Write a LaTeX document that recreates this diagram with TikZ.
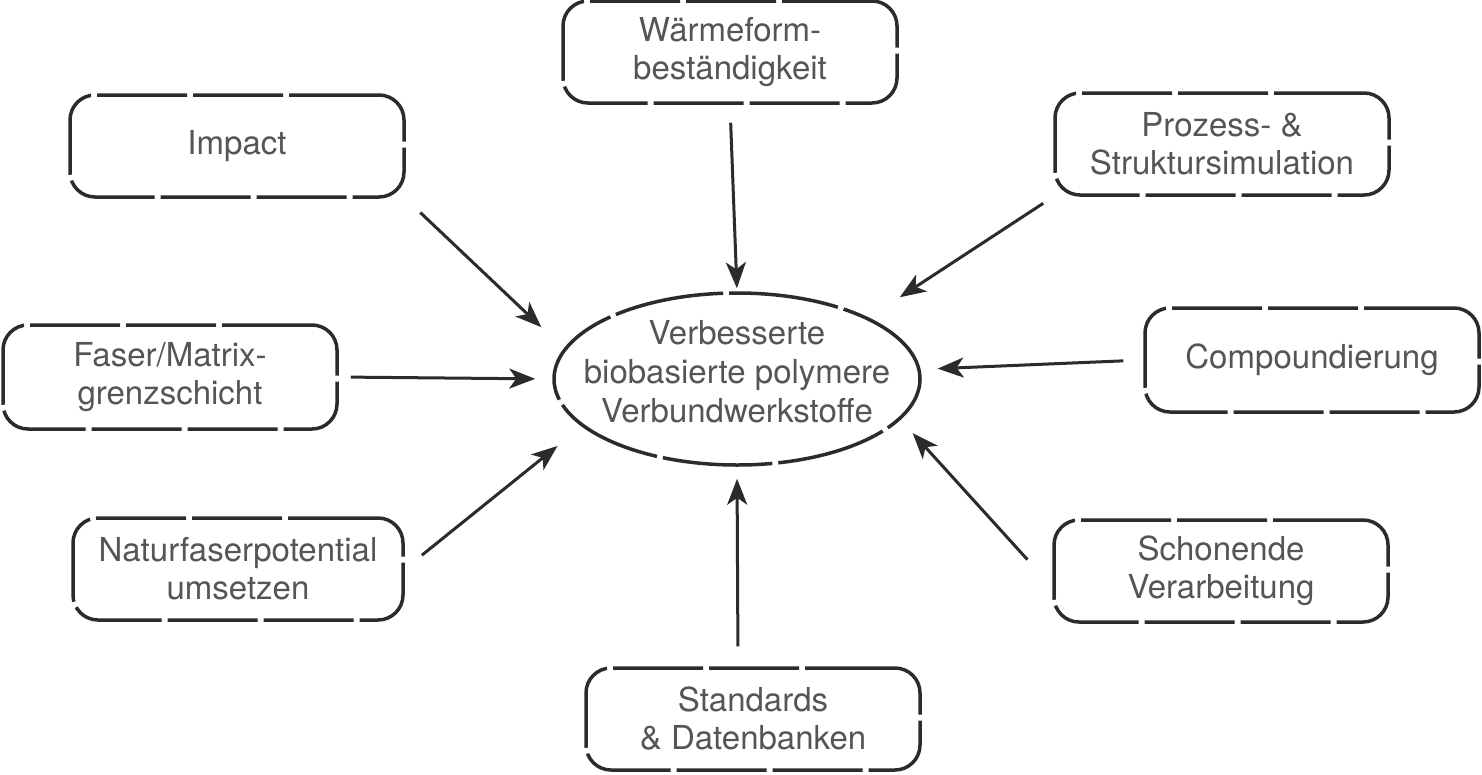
\documentclass[tikz,border=0pt]{standalone}
\usepackage{fontspec}
\setmainfont{TeX Gyre Heros}
\usetikzlibrary{shapes.geometric,arrows.meta}
\definecolor{linec}{HTML}{2B2B2B}
\definecolor{textc}{HTML}{555555}
\tikzset{
  topic/.style={draw=linec, line width=3.5pt, rounded corners=25pt,
    dash pattern=on 90pt off 6pt, text=textc, align=center,
    font=\fontsize{33}{38}\selectfont, inner sep=0pt,
    minimum width=334pt, minimum height=102pt},
  goal/.style={draw=linec, line width=3.5pt, ellipse,
    dash pattern=on 110pt off 6pt, inner sep=0pt,
    minimum width=366pt, minimum height=172pt},
  goaltext/.style={text=textc, align=center,
    font=\fontsize{33}{39}\selectfont, inner sep=0pt},
  arr/.style={draw=linec, line width=3pt,
    -{Stealth[length=26pt,width=20pt,inset=7pt]}}
}
\begin{document}
\begin{tikzpicture}[x=1pt,y=-1pt]
\useasboundingbox (0,0) rectangle (1482,774);
\node[goal] (ell) at (737,379) {};
\node[goaltext] (ellt) at ([yshift=7pt]ell.center) {Verbesserte\\biobasierte polymere\\Verbundwerkstoffe};
\node[topic] (wb) at (730,52) {Wärmeform-\\beständigkeit};
\node[topic] (imp) at (237,146) {Impact};
\node[topic] (pro) at (1222,144) {Prozess- \&\\Struktursimulation};
\node[topic, minimum height=104pt] (fas) at (170,377) {Faser/Matrix-\\grenzschicht};
\node[topic, minimum height=104pt] (com) at (1312,360) {Compoundierung};
\node[topic, minimum width=330pt] (nat) at (238,569) {Naturfaserpotential\\umsetzen};
\node[topic] (sch) at (1221,571) {Schonende\\Verarbeitung};
\node[topic] (std) at (753,719) {Standards\\\& Datenbanken};

\draw[arr, shorten <=18pt, shorten >=3pt] (wb.south) -- (ell.north);
\draw[arr, shorten <=20pt, shorten >=31pt] (imp.south east) -- (ell.170);
\draw[arr, shorten <=12pt, shorten >=37pt] (pro.south west) -- (ell.25);
\draw[arr, shorten <=12pt, shorten >=17pt] (fas.east) -- (ell.west);
\draw[arr, shorten <=20pt, shorten >=17pt] (com.west) -- (ell.3);
\draw[arr, shorten <=22pt, shorten >=31pt] (nat.east) -- (ell.197.5);
\draw[arr, shorten <=37pt, shorten >=18pt] ([yshift=-16pt]sch.west) -- (ell.346);
\draw[arr, shorten <=20pt, shorten >=12pt] ([xshift=-15pt]std.north) -- (ell.south);
\end{tikzpicture}
\end{document}
